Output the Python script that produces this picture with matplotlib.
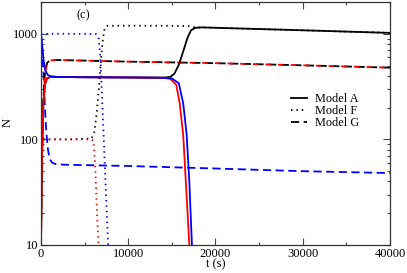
import matplotlib
matplotlib.use("Agg")
import matplotlib.pyplot as plt
from matplotlib.ticker import LogLocator, MultipleLocator, NullFormatter
from matplotlib.lines import Line2D

plt.rcParams['font.family'] = ['Liberation Serif', 'DejaVu Serif']

# Model A (solid)
tA_blue = [0, 150, 300, 500, 800, 1200, 2000, 5000, 10000, 14000, 15000, 15800,
           16300, 16700, 17000, 17300, 17600]
NA_blue = [1000, 750, 560, 450, 405, 395, 390, 388, 386, 384, 378, 340,
           220, 110, 40, 10, 4]
tA_red = [0, 100, 250, 450, 700, 1200, 2000, 5000, 10000, 14000, 14800, 15500,
          15900, 16300, 16600, 17000, 17300]
NA_red = [10, 60, 200, 330, 380, 392, 390, 388, 386, 383, 375, 330,
          220, 110, 40, 10, 4]
tA_black = [0, 100, 250, 450, 700, 1200, 2000, 5000, 10000, 14000, 14800, 15300,
            15800, 16300, 16800, 17200, 17700, 18500, 20000, 30000, 40000]
NA_black = [10, 60, 200, 330, 380, 392, 390, 388, 386, 384, 390, 420,
            510, 680, 920, 1080, 1140, 1150, 1140, 1080, 1020]

# Model F (dotted)
tF_blue = [0, 3000, 6300, 6600, 6800, 7000, 7200, 7450, 7700, 7900]
NF_blue = [1000, 1000, 995, 930, 600, 250, 100, 30, 10, 5]
tF_red = [0, 100, 300, 3000, 5800, 6000, 6200, 6400, 6600, 6800]
NF_red = [80, 98, 100, 100, 100, 97, 60, 22, 10, 5]
tF_black = [0, 300, 3000, 5800, 6100, 6400, 6700, 6900, 7100, 7300, 7600, 10000,
            15000, 17000, 17700, 18500, 20000, 30000, 40000]
NF_black = [90, 100, 100, 102, 115, 180, 350, 600, 900, 1130, 1190, 1195,
            1190, 1180, 1150, 1150, 1140, 1080, 1020]

# Model G (dashed)
tG_blue = [0, 150, 300, 450, 600, 800, 1000, 1300, 1800, 3000, 10000, 20000,
           30000, 40000]
NG_blue = [1000, 700, 400, 200, 120, 80, 65, 60, 58, 57.5, 56, 53, 50, 48]
tG = [0, 100, 250, 450, 700, 1000, 2000, 10000, 20000, 30000, 40000]
NG_red = [10, 60, 220, 420, 530, 560, 565, 545, 527, 503, 478]
NG_black = [10, 60, 220, 420, 530, 560, 565, 545, 527, 503, 478]

fig = plt.figure(figsize=(4.07, 2.73), dpi=100)
ax = fig.add_axes([0.1007, 0.1026, 0.8575, 0.89])

lw = 1.3
dot = (0, (0.8, 2.2))
dash = (0, (4.5, 2.5))
ax.plot(tF_black, NF_black, color='black', lw=lw, linestyle=dot)
ax.plot(tF_blue, NF_blue, color='blue', lw=lw, linestyle=dot)
ax.plot(tF_red, NF_red, color='red', lw=lw, linestyle=dot)

ax.plot(tG_blue, NG_blue, color='blue', lw=lw, linestyle=dash)
ax.plot(tG, NG_black, color='black', lw=lw, linestyle=dash)
ax.plot(tG, NG_red, color='red', lw=lw, linestyle=(1.5, (3.0, 4.0)))

ax.plot(tA_black, NA_black, color='black', lw=lw)
ax.plot(tA_red, NA_red, color='red', lw=lw)
ax.plot(tA_blue, NA_blue, color='blue', lw=lw)

ax.set_yscale('log')
ax.set_xlim(0, 40000)
ax.set_ylim(10, 2000)
ax.xaxis.set_major_locator(MultipleLocator(10000))
ax.xaxis.set_minor_locator(MultipleLocator(5000))
ax.yaxis.set_minor_locator(LogLocator(base=10, subs=range(2, 10), numticks=10))
ax.yaxis.set_minor_formatter(NullFormatter())
ax.set_yticks([10, 100, 1000])
ax.set_yticklabels(['10', '100', '1000'])
ax.tick_params(which='both', direction='in', top=True, right=True,
               labelsize=9, color='#444444', width=0.8, pad=2)
ax.tick_params(which='major', length=5)
ax.tick_params(which='minor', length=2.5)
for s in ax.spines.values():
    s.set_color('#333333')
    s.set_linewidth(0.9)

ax.set_xlabel('t (s)', fontsize=9, labelpad=-1)
ax.set_ylabel('N', fontsize=9)
ax.yaxis.set_label_coords(-0.078, 0.506)
ax.text(0.12, 0.945, '(c)', transform=ax.transAxes, fontsize=9,
        ha='center', va='center')

handles = [Line2D([], [], color='black', lw=lw),
           Line2D([], [], color='black', lw=lw, linestyle=dot),
           Line2D([], [], color='black', lw=lw, linestyle=dash)]
ax.legend(handles, ['Model A', 'Model F', 'Model G'], frameon=False,
          fontsize=8.8, handlelength=1.3, handletextpad=0.7, labelspacing=0.0,
          loc='upper left', bbox_to_anchor=(0.685, 0.67))

fig.savefig('out.png', dpi=100)
